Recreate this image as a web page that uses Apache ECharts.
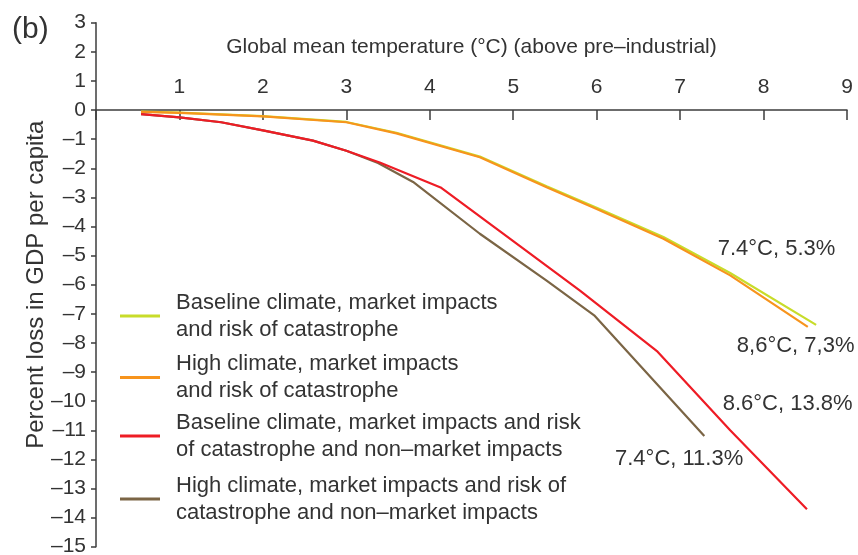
<!DOCTYPE html>
<html>
<head>
<meta charset="utf-8">
<script src="https://cdn.jsdelivr.net/npm/echarts@6/dist/echarts.min.js"></script>
<style>
html,body{margin:0;padding:0;background:#fff;}
#chart{width:858px;height:555px;}
</style>
</head>
<body>
<div id="chart"></div>
<script>
// ---- data ----
const seriesNames = [
  'Baseline climate, market impacts\nand risk of catastrophe',
  'High climate, market impacts\nand risk of catastrophe',
  'Baseline climate, market impacts and risk\nof catastrophe and non–market impacts',
  'High climate, market impacts and risk of\ncatastrophe and non–market impacts'
];
const greenTemp  = [0.54, 1, 2, 3, 3.6, 4.6, 5.4, 6.0, 6.8, 7.6, 8.63];
const greenLoss  = [-0.05, -0.09, -0.21, -0.41, -0.78, -1.6, -2.62, -3.36, -4.36, -5.6, -7.38];
const orangeTemp = [0.54, 1, 2, 3, 3.6, 4.6, 5.4, 6.0, 6.8, 7.6, 8.53];
const orangeLoss = [-0.06, -0.1, -0.22, -0.42, -0.8, -1.62, -2.65, -3.4, -4.42, -5.68, -7.45];
const redTemp    = [0.54, 1, 1.5, 2, 2.6, 3, 3.4, 4.13, 5.0, 5.8, 6.73, 7.6, 8.52];
const redLoss    = [-0.14, -0.25, -0.42, -0.7, -1.05, -1.4, -1.8, -2.66, -4.5, -6.2, -8.3, -11.0, -13.71];
const brownTemp  = [0.54, 1, 1.5, 2, 2.6, 3, 3.38, 3.8, 4.6, 5.4, 5.97, 7.29];
const brownLoss  = [-0.14, -0.25, -0.42, -0.7, -1.05, -1.4, -1.82, -2.47, -4.25, -5.86, -7.05, -11.2];
const annotationText = ['7.4°C, 5.3%', '8,6°C, 7,3%', '8.6°C, 13.8%', '7.4°C, 11.3%'];
const annotationTemp = [7.45, 7.68, 7.51, 6.22];
const annotationLoss = [-4.77, -8.1, -10.09, -11.98];
const xAxisTitle = 'Global mean temperature (°C) (above pre–industrial)';
const yAxisTitle = 'Percent loss in GDP per capita';
const yMin = -15, yMax = 3;

// ---- styling ----
const FONT = '"Liberation Sans", Arial, Helvetica, sans-serif';
const TXT = '#333333';
const colors = ['#c8dc2a', '#f7941d', '#ee1c25', '#7b6545'];
const zs = [2, 3, 5, 4];
const W = 858, H = 555;
const gridTop = 22.7, gridBottom = 8.3;
const gridH = H - gridTop - gridBottom;
// distance from the grid top down to the zero line (x axis sits on y = 0)
const zeroOffset = (yMax - 0) / (yMax - yMin) * gridH;

function pairs(xs, ys){ return xs.map((x, i) => [x, ys[i]]); }
const allData = [
  pairs(greenTemp, greenLoss),
  pairs(orangeTemp, orangeLoss),
  pairs(redTemp, redLoss),
  pairs(brownTemp, brownLoss)
];

const series = allData.map((d, i) => ({
  name: seriesNames[i],
  type: 'line',
  data: d,
  showSymbol: false,
  symbol: 'none',
  z: zs[i],
  lineStyle: { color: colors[i], width: 2.2 },
  itemStyle: { color: colors[i] },
  animation: false
}));

series.push({
  type: 'scatter',
  data: annotationText.map((t, i) => ({ value: [annotationTemp[i], annotationLoss[i]], name: t })),
  symbolSize: 0,
  silent: true,
  z: 6,
  itemStyle: { opacity: 1 },
  label: {
    show: true,
    position: 'inside',
    align: 'left',
    verticalAlign: 'middle',
    formatter: p => p.name,
    color: TXT,
    opacity: 1,
    fontFamily: FONT,
    fontSize: 22
  },
  animation: false
});

const legendTops = [275.5, 337, 395.5, 458.5];
const legends = seriesNames.map((n, i) => ({
  data: [n],
  left: 120,
  top: legendTops[i],
  padding: 0,
  icon: 'rect',
  itemWidth: 40,
  itemHeight: 3,
  selectedMode: false,
  textStyle: {
    color: TXT,
    fontFamily: FONT,
    fontSize: 22,
    lineHeight: 27,
    padding: [27, 0, 0, 11]
  }
}));

const chart = echarts.init(document.getElementById('chart'), null, { renderer: 'canvas' });
chart.setOption({
  animation: false,
  backgroundColor: '#ffffff',
  grid: { left: 96, right: 11, top: gridTop, bottom: gridBottom, containLabel: false, outerBoundsMode: 'none' },
  legend: legends,
  graphic: [{
    type: 'text', left: 12, top: 15,
    style: { text: '(b)', fill: TXT, font: '30px ' + FONT }
  }],
  xAxis: {
    type: 'value',
    position: 'top',
    offset: -zeroOffset,
    min: 0, max: 9, interval: 1,
    name: xAxisTitle,
    nameLocation: 'middle',
    nameGap: 52,
    nameTextStyle: { color: TXT, fontFamily: FONT, fontSize: 21 },
    axisLine: { show: true, onZero: false, lineStyle: { color: '#3c3c3c', width: 1.5 } },
    axisTick: { show: true, inside: true, length: 10, lineStyle: { color: '#3c3c3c', width: 1.5 } },
    axisLabel: { color: TXT, fontFamily: FONT, fontSize: 21, margin: 12,
      formatter: v => v === 0 ? '' : String(v) },
    splitLine: { show: false }
  },
  yAxis: {
    type: 'value',
    min: yMin, max: yMax, interval: 1,
    name: yAxisTitle,
    nameLocation: 'middle',
    nameGap: 48,
    nameMoveOverlap: false,
    nameTextStyle: { color: TXT, fontFamily: FONT, fontSize: 24 },
    axisLine: { show: true, onZero: false, lineStyle: { color: '#3c3c3c', width: 1.5 } },
    axisTick: { show: true, inside: false, length: 5, lineStyle: { color: '#3c3c3c', width: 1.5 } },
    axisLabel: { color: TXT, fontFamily: FONT, fontSize: 21, margin: 10,
      formatter: v => String(v).replace('-', '–') },
    splitLine: { show: false }
  },
  series: series
});
</script>
</body>
</html>
